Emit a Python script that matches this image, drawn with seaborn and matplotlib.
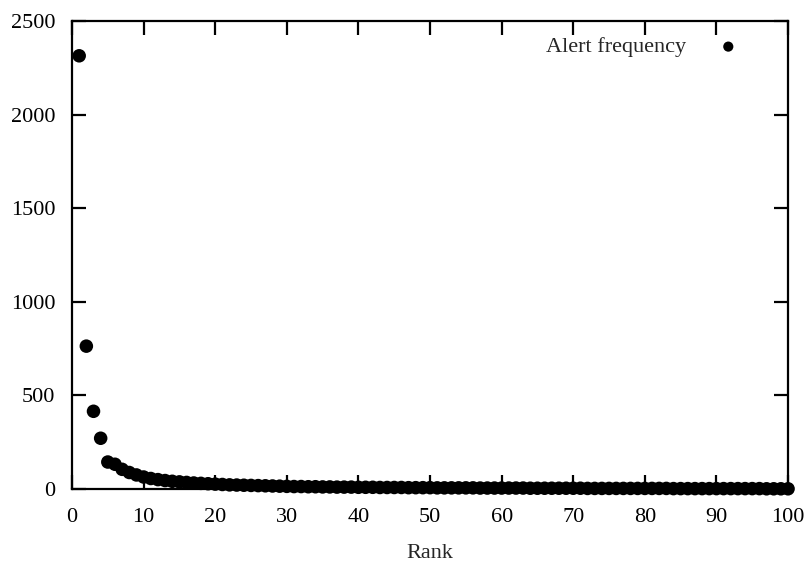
import numpy as np
import pandas as pd
import matplotlib
matplotlib.use("Agg")
import matplotlib.pyplot as plt
import seaborn as sns

# rank of each alert type (1..100) and how often it fired
ranks = list(range(1, 101))
frequency = [
    2314, 763, 415, 271, 144, 132, 105, 88, 75, 64,
    56, 50, 45, 41, 38, 35, 32, 30, 28, 26,
    24, 22, 21, 20, 19, 18, 17, 16, 15, 14,
    13, 13, 12, 12, 11, 11, 10, 10, 10, 9,
    9, 9, 8, 8, 8, 8, 7, 7, 7, 7,
    6, 6, 6, 6, 6, 6, 5, 5, 5, 5,
    5, 5, 5, 4, 4, 4, 4, 4, 4, 4,
    4, 3, 3, 3, 3, 3, 3, 3, 3, 3,
    3, 3, 3, 2, 2, 2, 2, 2, 2, 2,
    2, 2, 2, 2, 2, 2, 1, 1, 1, 1,
]
x_ticks = list(range(0, 101, 10))
y_ticks = list(range(0, 2501, 500))

df = pd.DataFrame({"Rank": ranks, "Alert frequency": frequency})

sns.set_style("ticks")
plt.rcParams['font.family'] = ['Liberation Serif', 'DejaVu Serif']

fig = plt.figure(figsize=(8.12, 5.67), dpi=100)
ax = fig.add_axes([0.0887, 0.1376, 0.8818, 0.8254])

sns.scatterplot(data=df, x="Rank", y="Alert frequency", ax=ax,
                color="black", s=95, edgecolor="none",
                label="Alert frequency", clip_on=False, zorder=3)

ax.set_xlim(0, 100)
ax.set_ylim(0, 2500)
ax.set_xticks(x_ticks)
ax.set_yticks(y_ticks)
ax.set_xlabel("Rank", fontsize=16, labelpad=12)
ax.set_ylabel("")

for side in ["top", "right", "bottom", "left"]:
    ax.spines[side].set_visible(True)
    ax.spines[side].set_linewidth(1.6)
    ax.spines[side].set_color("black")

ax.tick_params(axis="both", which="major", direction="in", length=10,
               width=1.6, colors="black", labelsize=16,
               top=True, right=True)
ax.tick_params(axis="x", pad=14)
ax.tick_params(axis="y", pad=12)

leg = ax.legend(loc="upper right", frameon=False, markerfirst=False,
                fontsize=16, handletextpad=0.9, markerscale=0.75,
                bbox_to_anchor=(0.96, 0.985), borderaxespad=0)

fig.savefig("out.png", dpi=100)
